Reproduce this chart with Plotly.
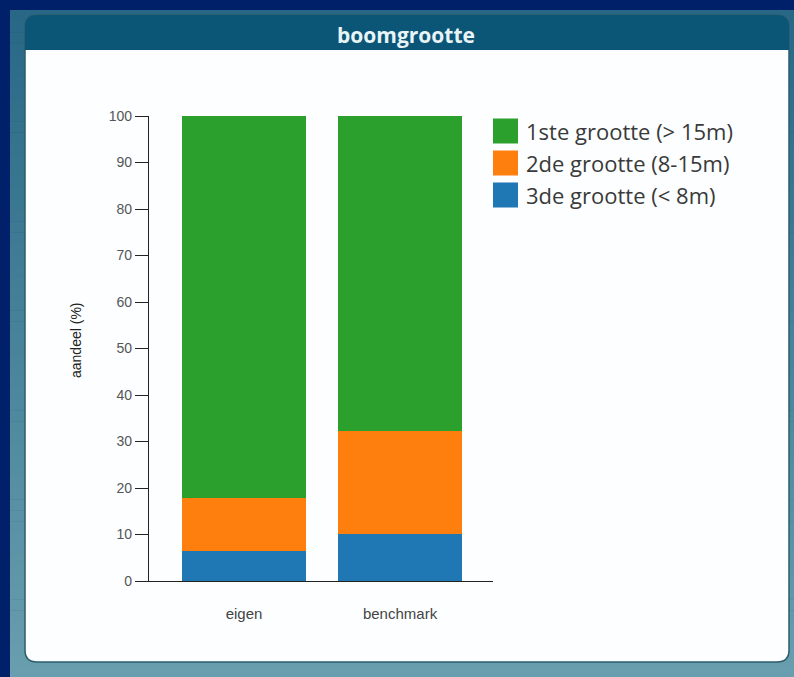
import plotly.graph_objects as go

# ---------------- data ----------------
categories = ["eigen", "benchmark"]
series_names = ["3de grootte (< 8m)", "2de grootte (8-15m)", "1ste grootte (> 15m)"]
series_values = [
    [6.5, 10.2],    # 3de grootte
    [11.4, 22.1],   # 2de grootte
    [82.1, 67.7],   # 1ste grootte
]
series_colors = ["#1f77b4", "#ff7f0e", "#2ca02c"]
y_ticks = [0, 10, 20, 30, 40, 50, 60, 70, 80, 90, 100]
title_text = "boomgrootte"
y_title = "aandeel (%)"

# ---------------- layout helpers ----------------
W, H = 794, 677


def X(p):
    return p / W


def Y(p):
    return 1 - p / H


def rounded_path(x0, y0, x1, y1, rtl, rtr, rbr, rbl):
    def pt(x, y):
        return f"{X(x):.5f},{Y(y):.5f}"
    s = f"M{pt(x0 + rtl, y0)} L{pt(x1 - rtr, y0)} Q{pt(x1, y0)} {pt(x1, y0 + rtr)} "
    s += f"L{pt(x1, y1 - rbr)} Q{pt(x1, y1)} {pt(x1 - rbr, y1)} "
    s += f"L{pt(x0 + rbl, y1)} Q{pt(x0, y1)} {pt(x0, y1 - rbl)} "
    s += f"L{pt(x0, y0 + rtl)} Q{pt(x0, y0)} {pt(x0 + rtl, y0)} Z"
    return s


def lerp_color(c0, c1, t):
    return "rgb({},{},{})".format(*[round(a + (b - a) * t) for a, b in zip(c0, c1)])


shapes = []
# gradient panel
N = 60
top_c, bot_c = (40, 104, 134), (104, 158, 174)
y_start, y_end = 10, 677
for i in range(N):
    ya = y_start + (y_end - y_start) * i / N
    yb = y_start + (y_end - y_start) * (i + 1) / N + 0.5
    shapes.append(dict(type="rect", xref="paper", yref="paper", layer="below",
                       x0=X(10), x1=X(794), y0=Y(yb), y1=Y(ya),
                       fillcolor=lerp_color(top_c, bot_c, i / (N - 1)),
                       line=dict(width=0)))
# card body
shapes.append(dict(type="path", xref="paper", yref="paper", layer="below",
                   path=rounded_path(25, 15, 789, 662, 12, 12, 12, 12),
                   fillcolor="#fcfeff", line=dict(color="#2c5d6e", width=1.5)))
# header
shapes.append(dict(type="path", xref="paper", yref="paper", layer="below",
                   path=rounded_path(25, 15, 789, 50, 12, 12, 0, 0),
                   fillcolor="#0b5676", line=dict(width=0)))

annotations = [
    dict(text=f"<b>{title_text}</b>", xref="paper", yref="paper", x=X(406), y=Y(35),
         xanchor="center", yanchor="middle", showarrow=False,
         font=dict(family="Open Sans", size=21, color="#e9f4f7")),
    dict(text=y_title, xref="paper", yref="paper", x=X(76), y=Y(340),
         xanchor="center", yanchor="middle", showarrow=False, textangle=-90,
         font=dict(family="Liberation Sans", size=14, color="#222")),
]

# custom legend (top series first)
for k, idx in enumerate(reversed(range(len(series_names)))):
    cy = 131 + 32 * k
    shapes.append(dict(type="rect", xref="paper", yref="paper",
                       x0=X(493), x1=X(518), y0=Y(cy + 12.5), y1=Y(cy - 12.5),
                       fillcolor=series_colors[idx], line=dict(width=0)))
    annotations.append(dict(text=series_names[idx], xref="paper", yref="paper",
                            x=X(524), y=Y(cy), xanchor="left", yanchor="middle",
                            showarrow=False,
                            font=dict(family="Open Sans", size=22, color="#3a3a3a")))

fig = go.Figure()
for name, vals, col in zip(series_names, series_values, series_colors):
    fig.add_trace(go.Bar(x=categories, y=vals, name=name,
                         marker=dict(color=col, line=dict(width=0)),
                         showlegend=False))

fig.update_layout(
    width=W, height=H,
    margin=dict(l=0, r=0, t=0, b=0, pad=0, autoexpand=False),
    paper_bgcolor="#00216a",
    plot_bgcolor="rgba(0,0,0,0)",
    barmode="stack",
    bargap=0.205,
    shapes=shapes,
    annotations=annotations,
    showlegend=False,
    xaxis=dict(domain=[X(149), X(493)], range=[-0.609, 1.596], automargin=False,
               showline=True, linecolor="#222", linewidth=1.2,
               ticks="", showgrid=False, zeroline=False,
               ticklabelstandoff=19,
               tickfont=dict(family="Liberation Sans", size=15, color="#444")),
    yaxis=dict(domain=[Y(581), Y(116)], range=[0, 100], tickvals=y_ticks,
               automargin=False,
               showline=True, linecolor="#222", linewidth=1.2,
               ticks="outside", ticklen=13, tickcolor="#222", tickwidth=1.2,
               showgrid=False, zeroline=False,
               tickfont=dict(family="Liberation Sans", size=14, color="#555")),
)

fig.write_html(
    "out.html",
    config={"displayModeBar": False},
    post_script="document.body.style.margin='0';document.body.style.overflow='hidden';",
)
